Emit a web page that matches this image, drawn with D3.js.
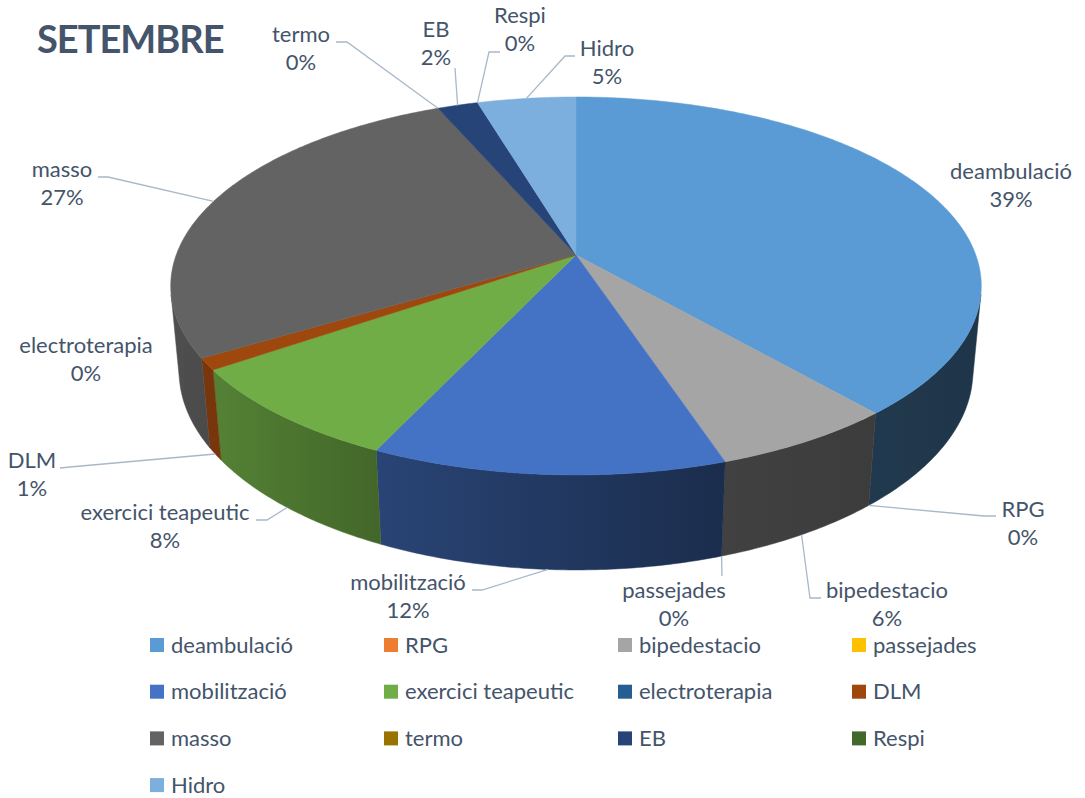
<!DOCTYPE html>
<html>
<head>
<meta charset="utf-8">
<script src="https://cdn.jsdelivr.net/npm/d3@7"></script>
<style>
  html, body { margin: 0; padding: 0; background: #ffffff; }
  svg { display: block; font-family: Lato, "Open Sans", sans-serif; }
  .lbl { font-size: 22px; fill: #44546a; }
  .leader { fill: none; stroke: #a9b8c9; stroke-width: 1.3; }
</style>
</head>
<body>
<div id="chart"></div>
<script>
// data (percent of the month)
const categories = [
  "deambulació", "RPG", "bipedestacio", "passejades", "mobilització",
  "exercici teapeutic", "electroterapia", "DLM", "masso", "termo",
  "EB", "Respi", "Hidro",
];
const values = [38.6, 0, 6.3, 0, 12.1, 8.4, 0, 1.0, 27.1, 0, 1.9, 0, 4.6];
const palette = [
  "#5b9bd5", "#ed7d31", "#a5a5a5", "#ffc000", "#4472c4", "#70ad47",
  "#255e91", "#9e480e", "#636363", "#997300", "#264478", "#43682b", "#7cafdd",
];

// where Excel put each data label: text centre x, first baseline y,
// and the label end of its leader line (the slice end is computed)
const labelLayout = {
  "deambulació": { x: 1011, y: 179, line: null },
  "RPG": { x: 1023, y: 517, line: [[996, 516], [984, 516]] },
  "bipedestacio": { x: 887, y: 598, line: [[821, 598], [810, 598]] },
  "passejades": { x: 674, y: 598, line: [[722, 576]] },
  "mobilització": { x: 408, y: 590, line: [[472, 590], [482, 590]] },
  "exercici teapeutic": { x: 165, y: 520, line: [[256, 520], [267, 520]] },
  "electroterapia": { x: 86, y: 353, line: null },
  "DLM": { x: 32, y: 468, line: [[60, 468], [70, 467]] },
  "masso": { x: 62, y: 177, line: [[98, 177], [108, 177]] },
  "termo": { x: 301, y: 42, line: [[336, 42], [347, 42]] },
  "EB": { x: 436, y: 37, line: [[455, 68]] },
  "Respi": { x: 520, y: 23, line: [[500, 52], [489, 52]] },
  "Hidro": { x: 607, y: 56, line: [[575, 56], [565, 56]] },
};

const width = 1085;
const height = 798;

// 3D pie camera: centre on screen, focal length, distance, tilt, thickness
const cx = 576, cy = 255;
const focal = 2167, dist = 5.42;
const sinA = 0.46, cosA = Math.sqrt(1 - sinA * sinA);
const thick = 0.242;

function project(theta, r, bottom) {
  const X = r * Math.sin(theta);
  const Z = -r * Math.cos(theta);
  const Y = bottom ? -thick : 0;
  const depth = dist - Y * sinA - Z * cosA;
  return [cx + (focal * X) / depth, cy + (focal * (Z * sinA - Y * cosA)) / depth];
}

// side wall is seen only where cos(theta) < -1/(dist*cosA)
const edge = Math.acos(-1 / (dist * cosA));
const sideMin = edge, sideMax = 2 * Math.PI - edge;

// light comes from the left: right-hand walls are darker
const shade = d3.scaleLinear()
  .domain([100, 145, 185, 220, 260].map((d) => (d * Math.PI) / 180))
  .range([0.34, 0.37, 0.43, 0.72, 0.8])
  .clamp(true);

function darken(col, k) {
  const c = d3.rgb(col);
  return d3.rgb(c.r * k, c.g * k, c.b * k).formatHex();
}

function rimPoints(a0, a1, bottom) {
  const n = Math.max(2, Math.ceil(Math.abs(a1 - a0) / 0.01));
  return d3.range(n + 1).map((i) => project(a0 + ((a1 - a0) * i) / n, 1, bottom));
}

const rows = categories.map((name, i) => ({ name, value: values[i], color: palette[i] }));
const total = d3.sum(rows, (d) => d.value);
const pct = d3.format(".0%");

const arcs = d3.pie().sort(null).value((d) => d.value)(rows);

const svg = d3.select("#chart").append("svg")
  .attr("width", width)
  .attr("height", height)
  .attr("viewBox", `0 0 ${width} ${height}`);

const defs = svg.append("defs");
const line = d3.line();

// side walls first
const sideG = svg.append("g");
arcs.forEach((a, i) => {
  const lo = Math.max(a.startAngle, sideMin);
  const hi = Math.min(a.endAngle, sideMax);
  if (hi <= lo) return;
  const top = rimPoints(lo, hi, false);
  const bot = rimPoints(hi, lo, true);
  const id = `side-${i}`;
  const g = defs.append("linearGradient")
    .attr("id", id)
    .attr("gradientUnits", "userSpaceOnUse")
    .attr("x1", top[0][0]).attr("y1", 0)
    .attr("x2", top[top.length - 1][0]).attr("y2", 0);
  g.append("stop").attr("offset", 0).attr("stop-color", darken(a.data.color, shade(lo)));
  g.append("stop").attr("offset", 1).attr("stop-color", darken(a.data.color, shade(hi)));
  sideG.append("path")
    .attr("d", line(top.concat(bot)) + "Z")
    .attr("fill", `url(#${id})`)
    .attr("stroke", `url(#${id})`)
    .attr("stroke-width", 0.5);
});

// top faces
const topG = svg.append("g");
arcs.forEach((a) => {
  if (a.endAngle - a.startAngle <= 0) return;
  const pts = [[cx, cy]].concat(rimPoints(a.startAngle, a.endAngle, false));
  topG.append("path")
    .attr("d", line(pts) + "Z")
    .attr("fill", a.data.color)
    .attr("stroke", a.data.color)
    .attr("stroke-width", 0.5);
});

// data labels with leader lines
const labelG = svg.append("g");
arcs.forEach((a) => {
  const lay = labelLayout[a.data.name];
  const mid = (a.startAngle + a.endAngle) / 2;
  const front = mid > sideMin && mid < sideMax;
  const anchor = project(mid, 1, front);

  if (lay.line) {
    labelG.append("path")
      .attr("class", "leader")
      .attr("d", line(lay.line.concat([anchor])));
  }

  const t = labelG.append("text")
    .attr("class", "lbl")
    .attr("text-anchor", "middle");
  t.append("tspan").attr("x", lay.x).attr("y", lay.y).text(a.data.name);
  t.append("tspan").attr("x", lay.x).attr("y", lay.y + 28).text(pct(a.data.value / total));
});

// title
svg.append("text")
  .attr("x", 37)
  .attr("y", 53)
  .style("font-size", "38px")
  .style("font-weight", 700)
  .style("letter-spacing", "-1px")
  .style("fill", "#44546a")
  .text("SETEMBRE");

// legend, 4 columns
const legend = svg.append("g");
const colX = (i) => 150 + (i % 4) * 234;
const rowY = (i) => 645 + Math.floor(i / 4) * 46.7;

const item = legend.selectAll("g.item")
  .data(rows)
  .join("g")
  .attr("class", "item")
  .attr("transform", (d, i) => `translate(${colX(i)},${rowY(i)})`);

item.append("rect")
  .attr("x", 0)
  .attr("y", -7)
  .attr("width", 14)
  .attr("height", 14)
  .attr("fill", (d) => d.color);

item.append("text")
  .attr("class", "lbl")
  .attr("x", 21)
  .attr("y", 7.5)
  .text((d) => d.name);
</script>
</body>
</html>
